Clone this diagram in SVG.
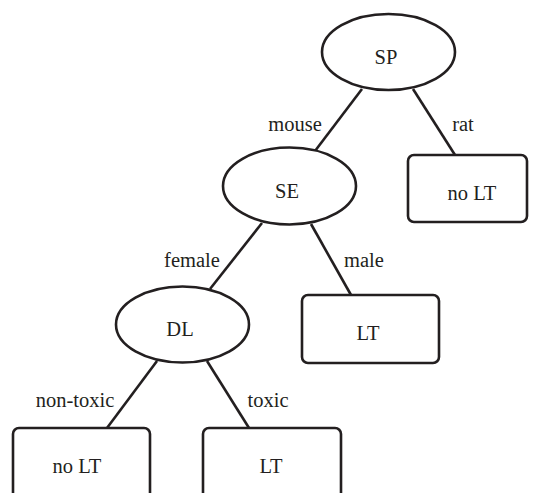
<svg xmlns="http://www.w3.org/2000/svg" width="537" height="493" viewBox="0 0 537 493" font-family="Liberation Serif, Times New Roman, serif" font-size="20.5" text-anchor="middle">
<style>
.n{fill:#fff;stroke:#231f20;stroke-width:2.6}
.e{stroke:#231f20;stroke-width:2.6;fill:none}
.t{fill:#231f20}
</style>
<rect width="537" height="493" fill="#fff"/>
<g id="connectors">
<line class="e" x1="362" y1="89" x2="315" y2="151"/>
<line class="e" x1="413" y1="89" x2="455" y2="155"/>
<line class="e" x1="262" y1="223" x2="210" y2="289"/>
<line class="e" x1="311" y1="224" x2="351" y2="295"/>
<line class="e" x1="157" y1="361" x2="107" y2="428"/>
<line class="e" x1="207" y1="361" x2="249" y2="428"/>
<text class="t" x="295" y="131">mouse</text>
<text class="t" x="463" y="131">rat</text>
<text class="t" x="192" y="267">female</text>
<text class="t" x="364" y="267">male</text>
<text class="t" x="75" y="407">non-toxic</text>
<text class="t" x="268" y="407">toxic</text>
</g>
<g id="SP"><ellipse class="n" cx="388.5" cy="52" rx="66.5" ry="38"/><text class="t" x="386" y="64">SP</text></g>
<g id="noLT1"><rect class="n" x="408" y="155" width="119" height="67" rx="6"/><text class="t" x="472" y="200">no LT</text></g>
<g id="SE"><ellipse class="n" cx="289.5" cy="186" rx="66.5" ry="38.5"/><text class="t" x="287" y="198">SE</text></g>
<g id="LT1"><rect class="n" x="302" y="295" width="137" height="68" rx="6"/><text class="t" x="368" y="340">LT</text></g>
<g id="DL"><ellipse class="n" cx="182.5" cy="324.5" rx="66.5" ry="38"/><text class="t" x="180" y="336">DL</text></g>
<g id="noLT2"><rect class="n" x="13" y="428" width="137" height="80" rx="6"/><text class="t" x="77" y="473">no LT</text></g>
<g id="LT2"><rect class="n" x="203" y="428" width="138" height="80" rx="6"/><text class="t" x="271" y="473">LT</text></g>
</svg>
